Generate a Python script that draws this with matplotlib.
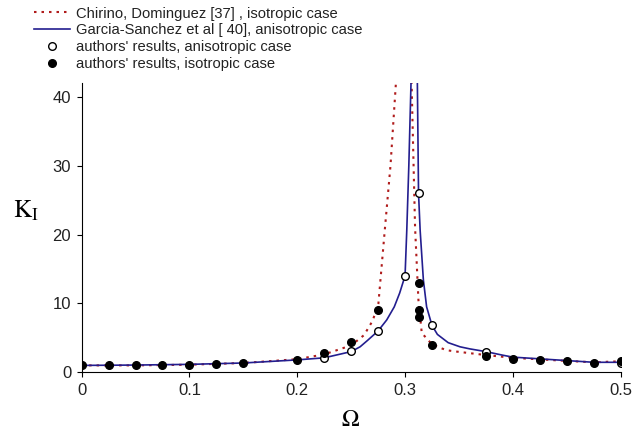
import matplotlib.pyplot as plt

plt.rcParams['font.family'] = ['Liberation Sans', 'DejaVu Sans']
plt.rcParams['mathtext.fontset'] = 'stix'

# Garcia-Sanchez et al, anisotropic case (solid line)
omega_aniso = [0, 0.05, 0.1, 0.15, 0.2, 0.225, 0.25, 0.2583, 0.265, 0.275, 0.283,
               0.29, 0.295, 0.3, 0.3016, 0.3035, 0.3056, 0.3085, 0.3114, 0.3125,
               0.314, 0.317, 0.32, 0.325, 0.33, 0.34, 0.351, 0.36, 0.375, 0.39,
               0.4, 0.425, 0.45, 0.475, 0.5]
k_aniso = [1.0, 1.05, 1.15, 1.35, 1.8, 2.1, 3.0, 3.7, 4.6, 6.0, 7.6,
           9.5, 11.5, 14.0, 20.6, 30.0, 42.4, 60.0, 42.4, 26.0,
           20.6, 13.4, 9.5, 6.8, 5.5, 4.3, 3.7, 3.4, 3.0, 2.5,
           2.2, 1.95, 1.7, 1.45, 1.45]

# Chirino, Dominguez, isotropic case (dotted line)
omega_iso = [0, 0.05, 0.1, 0.15, 0.2, 0.225, 0.25, 0.262, 0.27, 0.2753, 0.2814,
             0.2865, 0.2917, 0.299, 0.306, 0.3093, 0.3124, 0.3155, 0.323, 0.33,
             0.3387, 0.348, 0.375, 0.4, 0.45, 0.475, 0.5]
k_iso = [1.0, 1.0, 1.1, 1.35, 1.9, 2.6, 3.9, 5.4, 7.5, 10.0, 21.0,
         30.0, 42.4, 60.0, 42.4, 21.0, 10.5, 5.7, 4.4, 3.7,
         3.2, 3.0, 2.5, 2.1, 1.65, 1.45, 1.6]

# authors' results, anisotropic case (open circles)
omega_open = [0.225, 0.25, 0.275, 0.3, 0.3125, 0.325, 0.375, 0.5]
k_open = [2.1, 3.1, 6.0, 14.0, 26.0, 6.8, 3.0, 1.4]

# authors' results, isotropic case (filled circles)
omega_fill = [0, 0.025, 0.05, 0.075, 0.1, 0.125, 0.15, 0.2, 0.225, 0.25, 0.275,
              0.3125, 0.3125, 0.3125, 0.325, 0.375, 0.4, 0.425, 0.45, 0.475, 0.5]
k_fill = [1.0, 1.0, 1.0, 1.05, 1.1, 1.15, 1.3, 1.8, 2.85, 4.4, 9.0,
          13.0, 9.0, 8.0, 4.0, 2.4, 2.0, 1.85, 1.6, 1.3, 1.65]

red = '#b01c1c'
blue = '#231e8f'

fig = plt.figure(figsize=(6.34, 4.34), dpi=100)
ax = fig.add_axes([0.1287, 0.1422, 0.8503, 0.6666])

l1, = ax.plot(omega_iso, k_iso, color=red, linestyle=(0, (1.2, 2.4)), linewidth=1.5,
              label='Chirino, Dominguez [37] , isotropic case')
l2, = ax.plot(omega_aniso, k_aniso, color=blue, linewidth=1.2,
              label='Garcia-Sanchez et al [ 40], anisotropic case')
l3, = ax.plot(omega_open, k_open, 'o', markersize=5.5, markerfacecolor='white',
              markeredgecolor='black', markeredgewidth=1.0, linestyle='none',
              label="authors' results, anisotropic case")
l4, = ax.plot(omega_fill, k_fill, 'o', markersize=5.5, color='black', linestyle='none',
              label="authors' results, isotropic case", zorder=4)

ax.set_xlim(0, 0.5)
ax.set_ylim(0, 42)
ax.set_xticks([0, 0.1, 0.2, 0.3, 0.4, 0.5])
ax.set_xticklabels(['0', '0.1', '0.2', '0.3', '0.4', '0.5'])
ax.set_yticks([0, 10, 20, 30, 40])
ax.spines['top'].set_visible(False)
ax.spines['right'].set_visible(False)
ax.tick_params(direction='out', length=3.5, width=0.8, pad=4, labelsize=12,
               labelcolor='#222222')

fig.text(0.02, 0.515, r'$\mathrm{K_I}$', fontsize=18, ha='left', va='center')
fig.text(0.553, 0.032, r'$\Omega$', fontsize=17, ha='center', va='center')

fig.legend(handles=[l1, l2, l3, l4], loc='upper left',
           bbox_to_anchor=(0.053, 0.985), frameon=False, fontsize=10.6,
           handlelength=2.5, handletextpad=0.4, labelspacing=0.2,
           borderpad=0, borderaxespad=0, labelcolor='#222222')

fig.savefig('out.png', dpi=100)
